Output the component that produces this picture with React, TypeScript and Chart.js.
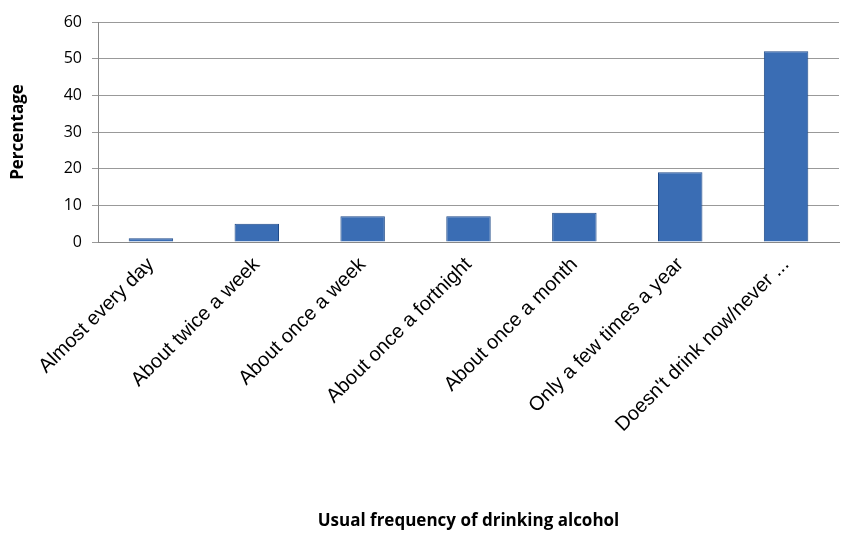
import { useEffect, useRef } from "react"
import { Chart, registerables } from "chart.js"

Chart.register(...registerables)

const categories = [
  "Almost every day",
  "About twice a week",
  "About once a week",
  "About once a fortnight",
  "About once a month",
  "Only a few times a year",
  "Doesn't drink now/never ...",
]
const percentages = [1, 5, 7, 7, 8, 19, 52]

export default function App() {
  const chartRef = useRef<HTMLCanvasElement>(null)
  const chartInstance = useRef<Chart | null>(null)

  useEffect(() => {
    document.body.style.margin = "0"
    if (!chartRef.current) return
    if (chartInstance.current) chartInstance.current.destroy()
    const ctx = chartRef.current.getContext("2d")
    if (!ctx) return

    chartInstance.current = new Chart(ctx, {
      type: "bar",
      data: {
        labels: categories,
        datasets: [
          {
            data: percentages,
            backgroundColor: "#3a6db4",
            borderColor: "#1f4a88",
            borderWidth: 1,
            barPercentage: 0.42,
            categoryPercentage: 1,
          },
        ],
      },
      options: {
        animation: false,
        responsive: false,
        layout: { padding: { top: 22, right: 2, left: 4, bottom: 0 } },
        plugins: { legend: { display: false }, tooltip: { enabled: false } },
        scales: {
          x: {
            afterFit: (scale) => {
              scale.height = 291
            },
            grid: { display: false },
            border: { color: "#888" },
            ticks: {
              color: "#000",
              maxRotation: 45,
              minRotation: 45,
              font: { family: "Liberation Sans", size: 20 },
            },
            title: {
              display: true,
              text: "Usual frequency of drinking alcohol",
              color: "#000",
              font: { family: "Open Sans", size: 17, weight: "bold" },
              padding: { top: 10, bottom: 2 },
            },
          },
          y: {
            min: 0,
            max: 60,
            afterFit: (scale) => {
              scale.width = 94
            },
            ticks: {
              stepSize: 10,
              color: "#000",
              padding: 10,
              font: { family: "Open Sans", size: 16 },
            },
            grid: { color: "#999", tickLength: 6 },
            border: { color: "#888" },
            title: {
              display: true,
              text: "Percentage",
              color: "#000",
              font: { family: "Open Sans", size: 17, weight: "bold" },
            },
          },
        },
      },
    })

    return () => {
      if (chartInstance.current) chartInstance.current.destroy()
    }
  }, [])

  return <canvas ref={chartRef} width={841} height={533} />
}
